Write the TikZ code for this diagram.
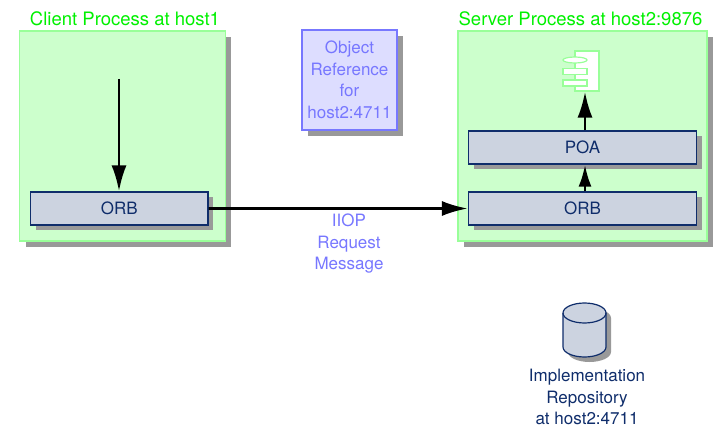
\documentclass[tikz,border=0pt]{standalone}
\usepackage{fontspec}
\setmainfont{TeX Gyre Heros}
\usepackage{tikz}
\usetikzlibrary{arrows.meta,shapes,shadows,positioning}

\definecolor{procfill}{HTML}{CCFFCC}
\definecolor{procline}{HTML}{99FF99}
\definecolor{proctext}{HTML}{00F000}
\definecolor{reffill}{HTML}{DDDDFF}
\definecolor{refline}{HTML}{7777FF}
\definecolor{orbfill}{HTML}{CCD3E0}
\definecolor{orbline}{HTML}{0F2D6B}
\definecolor{shadowgray}{HTML}{999999}

\begin{document}
\begin{tikzpicture}[x=1pt,y=-1pt]
      \tikzstyle{shade}=[drop shadow={shadow xshift=6pt,shadow yshift=-6pt,fill=shadowgray,opacity=1}]
      \tikzstyle{shadesmall}=[drop shadow={shadow xshift=5pt,shadow yshift=-5pt,fill=shadowgray,opacity=1}]
      \tikzstyle{proc}=[rectangle,shade,fill=procfill,draw=procline,line width=1.2pt,inner sep=0pt]
      \tikzstyle{orb}=[rectangle,shadesmall,fill=orbfill,draw=orbline,line width=1.2pt,minimum height=33pt,inner sep=0pt,text=orbline,font=\fontsize{17}{21.5}\selectfont]
      \tikzstyle{ref}=[rectangle,shade,fill=reffill,draw=refline,line width=1.2pt,minimum width=95pt,minimum height=100pt,inner sep=0pt,text=refline,align=center,font=\fontsize{17}{21.5}\selectfont]
      \tikzstyle{title}=[text=proctext,inner sep=0pt,font=\fontsize{18.5}{22}\selectfont]
      \tikzstyle{msg}=[text=refline,inner sep=0pt,align=center,font=\fontsize{17}{21.5}\selectfont]
      \tikzstyle{impl}=[text=orbline,inner sep=0pt,align=center,font=\fontsize{17}{21.5}\selectfont]
      \tikzstyle{comp}=[rectangle,fill=white,draw=procline,line width=1.2pt,inner sep=0pt]
      \tikzstyle{flow}=[line width=2.8pt,-{Latex[length=26pt,width=15pt]}]
      \tikzstyle{flowshort}=[line width=2.8pt,-{Latex[length=22pt,width=13pt]}]

      \useasboundingbox (0,0) rectangle (715,428);

      \begin{scope}
        \node[proc,minimum width=205.5pt,minimum height=210pt](client) at (122.5,136){};
        \node[title](clientlabel) at (125,19){Client Process at host1};
        \node[orb,minimum width=177.5pt](orb1) at (119.25,208.5){ORB};
        \coordinate (start) at (119,79);
      \end{scope}

      \begin{scope}
        \node[proc,minimum width=249pt,minimum height=210pt](server) at (582.5,136){};
        \node[title](serverlabel) at (580.5,19){Server Process at host2:9876};
        \node[orb,minimum width=228pt](poa) at (582.5,147.5){POA};
        \node[orb,minimum width=228pt,below=26.8pt of poa](orb2){ORB};
        \node[comp,minimum width=24pt,minimum height=40pt](servant) at (587,71){};
        \node[comp,ellipse,minimum width=24pt,minimum height=6pt](lollipop) at (575,60){};
        \node[comp,minimum width=24pt,minimum height=6pt](tab1) at (575,71.5){};
        \node[comp,minimum width=24pt,minimum height=6pt](tab2) at (575,83){};
        \coordinate (axis) at (585,0);
      \end{scope}

      \node[ref](objref) at (349.5,80){Object\\Reference\\for\\host2:4711};
      \node[msg](iiop) at (349,244){IIOP\\Request\\Message};

      % repository drum
      \draw[shadesmall,fill=orbfill,draw=orbline,line width=1.2pt]
      (563,313) arc[start angle=180,end angle=0,x radius=21.5pt,y radius=10pt]
      -- (606,347) arc[start angle=0,end angle=-180,x radius=21.5pt,y radius=10pt] -- cycle;
      \draw[draw=orbline,line width=1.2pt]
      (563,313) arc[start angle=180,end angle=360,x radius=21.5pt,y radius=10pt];
      \node[impl](repolabel) at (587,397){Implementation\\Repository\\at host2:4711};

      \path[flow]
      (start) edge (orb1.north-|start)
      (orb1) edge (orb2)
      (poa.north-|axis) edge (servant.south-|axis);
      \path[flowshort]
      (orb2.north-|axis) edge (poa.south-|axis);
    \end{tikzpicture}
\end{document}
